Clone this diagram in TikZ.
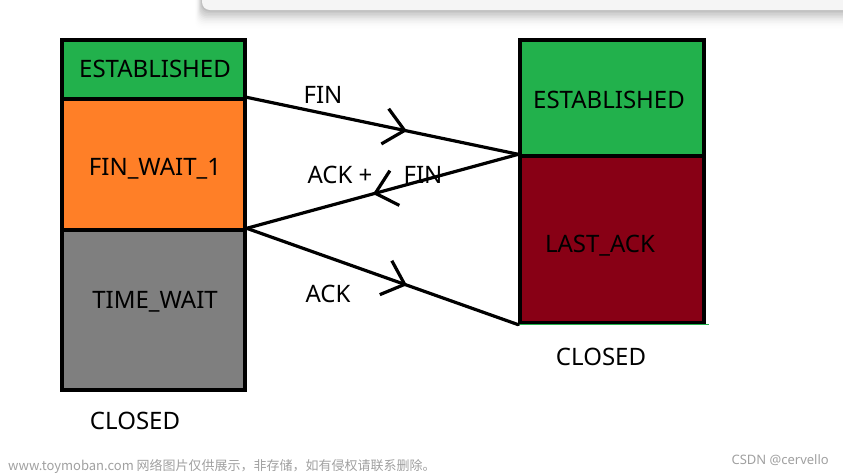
\documentclass[tikz,border=0pt]{standalone}
\usepackage{fontspec}
\setmainfont{Noto Sans}
\newfontfamily\cjk{Noto Sans CJK SC}
\usetikzlibrary{arrows.meta,decorations.markings}
\definecolor{pgreen}{HTML}{22B14C}
\definecolor{porange}{HTML}{FF7F27}
\definecolor{pgray}{HTML}{7F7F7F}
\definecolor{pred}{HTML}{880015}
\definecolor{wmgray}{HTML}{A0A0A0}
\tikzset{
  statebox/.style={draw=black, line width=3.4pt, rectangle, inner sep=0pt},
  statetext/.style={font=\fontsize{24}{28}\selectfont, text=black, inner sep=0pt},
  msglabel/.style={font=\fontsize{24}{28}\selectfont, text=black, inner sep=0pt},
  msgline/.style={line width=3.2pt, line cap=round, postaction=decorate},
  chev/.style={decoration={markings, mark=at position #1 with {\arrow{Straight Barb[length=20pt,width=36pt,line width=3.2pt]}}}},
}
\begin{document}
\begin{tikzpicture}[x=1pt,y=-1pt]
\path[use as bounding box] (0,0) rectangle (843,475);
% top card with shadow
\begin{scope}
\clip (0,0) rectangle (843,475);
\foreach \i/\o in {1/0.05,2/0.045,3/0.04,4/0.035,5/0.03,6/0.025,7/0.02,8/0.015,9/0.01,10/0.007,11/0.005,12/0.003}{
  \fill[black, opacity=\o, rounded corners=8] (202-\i*0.6,-20) rectangle (860,10+\i*1.6);
}
\fill[white!96!black, rounded corners=8] (202,-20) rectangle (860,10);
\end{scope}
% left column
\node[statebox, fill=pgreen, minimum width=183pt, minimum height=59pt] (lest) at (153.5,69.5) {};
\node[statebox, fill=porange, minimum width=183pt, minimum height=131pt] (lfin) at (153.5,164.5) {};
\node[statebox, fill=pgray, minimum width=183pt, minimum height=160pt] (ltime) at (153.5,310) {};
\node[statetext] (tlest) at (155,69) {ESTABLISHED};
\node[statetext] (tlfin) at (155,169) {FIN\_WAIT\_1};
\node[statetext] (tltime) at (155,302) {TIME\_WAIT};
\node[statetext] (lclosed) at (135,421) {CLOSED};
% right column
\node[statebox, fill=pgreen, minimum width=184pt, minimum height=116pt] (rest) at (612,98) {};
\node[statebox, fill=pred, minimum width=184pt, minimum height=167pt] (rlast) at (612,239.5) {};
\draw[pgreen, line width=1.5pt] (rlast.south west) -- ([xshift=3pt]rlast.south east);
\node[statetext] (trest) at (609,100) {ESTABLISHED};
\node[statetext] (trlast) at (600,246) {LAST\_ACK};
\node[statetext] (rclosed) at (601,357) {CLOSED};
% messages
\draw[msgline, chev=0.59] (lfin.north east) -- (rlast.north west);
\draw[msgline, chev=0.535] (rlast.north west) -- (ltime.north east);
\draw[msgline, chev=0.59] (ltime.north east) -- (rlast.south west);
\node[msglabel] (mfin) at (323,95) {FIN};
\node[msglabel] (mack1) at (340,175) {ACK +};
\node[msglabel] (mfin2) at (423,175) {FIN};
\node[msglabel] (mack) at (328,294) {ACK};
% watermark
\node[anchor=west, inner sep=0pt, text=wmgray, font=\cjk\fontsize{13}{15}\selectfont] (wm) at (8,466) {www.toymoban.com 网络图片仅供展示，非存储，如有侵权请联系删除。};
\node[anchor=east, inner sep=0pt, text=wmgray, font=\fontsize{13}{15}\selectfont] (csdn) at (829,460) {CSDN @cervello};
\end{tikzpicture}
\end{document}
